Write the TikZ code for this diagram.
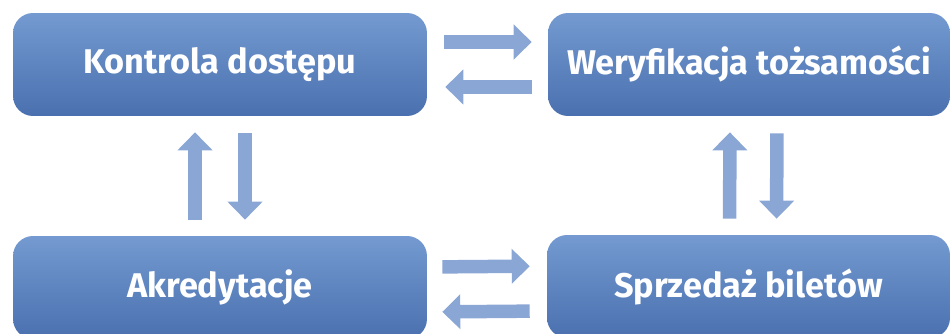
\documentclass[tikz,border=0pt]{standalone}
\usepackage{fontspec}
\setmainfont{Fira Sans}
\usetikzlibrary{arrows.meta}
\definecolor{boxtop}{RGB}{116,154,209}
\definecolor{boxbot}{RGB}{74,112,175}
\definecolor{flowblue}{RGB}{138,166,212}
\begin{document}
\begin{tikzpicture}[
        x=0.02cm, y=-0.02cm,
        box/.style={rounded corners=0.4cm, top color=boxtop, bottom color=boxbot,
            minimum height=2.06cm, text=white, inner sep=0pt,
            font=\bfseries\fontsize{19.5}{22}\selectfont},
        flow/.style={draw=flowblue, line width=0.27cm,
            -{Triangle[length=0.36cm, width=0.68cm]}}
    ]
        \useasboundingbox (0,0) rectangle (952,334);
        \clip (0,0) rectangle (952,334);

        \node[box, minimum width=8.28cm] (kd) at (220, 64.5) {Kontrola dostępu};
        \node[box, minimum width=8.04cm] (wt) at (749, 64.5) {Weryfikacja tożsamości};
        \node[box, minimum width=8.28cm] (ak) at (220, 287.5) {Akredytacje};
        \node[box, minimum width=8.06cm] (sb) at (748.5, 286.5) {Sprzedaż biletów};

        % top row
        \draw[flow, shorten <=0.34cm, shorten >=0.32cm] ([yshift=0.45cm]kd.east) -- ([yshift=0.45cm]wt.west);
        \draw[flow, shorten <=0.32cm, shorten >=0.36cm] ([yshift=-0.45cm]wt.west) -- ([yshift=-0.45cm]kd.east);

        % bottom row
        \draw[flow, shorten <=0.3cm, shorten >=0.34cm] ([yshift=0.41cm]ak.east) -- ([yshift=0.41cm]sb.west);
        \draw[flow, shorten <=0.34cm, shorten >=0.3cm] ([yshift=-0.49cm]sb.west) -- ([yshift=-0.49cm]ak.east);

        % left column
        \draw[flow, shorten <=0.32cm, shorten >=0.32cm] ([xshift=-0.5cm]ak.north) -- ([xshift=-0.5cm]kd.south);
        \draw[flow, shorten <=0.34cm, shorten >=0.32cm] ([xshift=0.5cm]kd.south) -- ([xshift=0.5cm]ak.north);

        % right column
        \draw[flow, shorten <=0.32cm, shorten >=0.32cm] ([xshift=-0.38cm]sb.north) -- ([xshift=-0.38cm]wt.south);
        \draw[flow, shorten <=0.34cm, shorten >=0.32cm] ([xshift=0.56cm]wt.south) -- ([xshift=0.56cm]sb.north);
    \end{tikzpicture}
\end{document}
